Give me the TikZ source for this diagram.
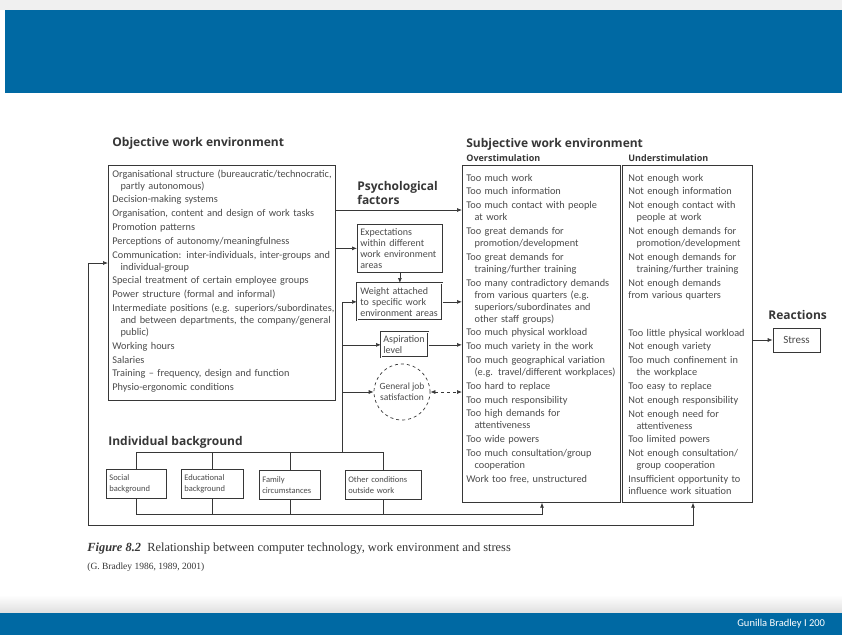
\documentclass[tikz,border=0pt]{standalone}
\usepackage{fontspec}
\setmainfont{Carlito}
\newfontfamily\headfont{Open Sans}
\newfontfamily\capfont{Liberation Serif}
\usetikzlibrary{arrows.meta,positioning}
\definecolor{slideblue}{RGB}{0,105,163}
\definecolor{ink}{RGB}{55,55,55}
\definecolor{txtgray}{RGB}{75,75,75}
\newcommand{\itm}[1]{\par\hangindent=0.8em\hangafter=1 #1}
\newcommand{\bodyfont}{\fontsize{10.3}{12}\selectfont\setlength{\parskip}{1.8pt}}
\begin{document}
\begin{tikzpicture}[x=1pt,y=-1pt,>={Latex[length=5pt,width=4pt]},line width=0.7pt,
  box/.style={draw=ink,inner sep=0pt,anchor=north west},
  sbox/.style={draw=ink,anchor=north west,align=left,inner xsep=3pt,inner ysep=0pt,
    text=txtgray,font=\fontsize{10}{11}\selectfont},
  bbox/.style={sbox,minimum height=29pt,font=\fontsize{8.5}{11}\selectfont},
  txt/.style={anchor=north west,align=left,inner sep=0pt,text=txtgray,font=\bodyfont},
  head/.style={anchor=base west,inner sep=0pt,text=ink,font=\headfont\bfseries\fontsize{12}{14}\selectfont},
  subhead/.style={anchor=base west,inner sep=0pt,text=ink,font=\headfont\bfseries\fontsize{9}{10}\selectfont},
  link/.style={draw=ink}]
\useasboundingbox (0,0) rectangle (842,635);
\fill[white] (0,0) rectangle (842,635);
% slide frame
\fill[gray!12] (0,0) rectangle (842,10);
\fill[slideblue] (5,10) rectangle (842,93);
\shade[top color=white,bottom color=gray!25] (0,595) rectangle (842,613);
\fill[slideblue] (0,613) rectangle (842,635);
\node[anchor=west,inner sep=0pt,text=white,font=\fontsize{10.5}{12}\selectfont] (foot) at (737,624) {Gunilla Bradley I 200};

% headings
\node[head] (objhead) at (112,146) {Objective work environment};
\node[head] (subjhead) at (466,147) {Subjective work environment};
\node[subhead] (overhead) at (466,161) {Overstimulation};
\node[subhead] (underhead) at (628,161) {Understimulation};
\node[head,anchor=north west,align=left] (psyhead) at (357,181) {Psychological\\factors};
\node[head] (reacthead) at (768,319) {Reactions};
\node[head] (indhead) at (108,445) {Individual background};

% objective work environment
\node[box,minimum width=227pt,minimum height=235pt] (objbox) at (108,165) {};
\node[txt,text width=240pt] (objtxt) at (112,163) {%
\itm{Organisational structure (bureaucratic/technocratic,\newline partly autonomous)}
\itm{Decision-making systems}
\itm{Organisation, content and design of work tasks}
\itm{Promotion patterns}
\itm{Perceptions of autonomy/meaningfulness}
\itm{Communication: inter-individuals, inter-groups and\newline individual-group}
\itm{Special treatment of certain employee groups}
\itm{Power structure (formal and informal)}
\itm{Intermediate positions (e.g. superiors/subordinates,\newline and between departments, the company/general\newline public)}
\itm{Working hours}
\itm{Salaries}
\itm{Training -- frequency, design and function}
\itm{Physio-ergonomic conditions}};

% psychological factors
\node[sbox,minimum width=85pt,minimum height=48pt,text width=79pt] (expect) at (357,224) {Expectations\\within different\\work environment\\areas};
\node[sbox,double,double distance=0.8pt,minimum width=85pt,minimum height=37pt,text width=79pt] (weight) at (357,283) {Weight attached\\to specific work\\environment areas};
\node[sbox,double,double distance=0.8pt,inner xsep=2pt,minimum width=47pt,minimum height=25pt,text width=43pt] (aspir) at (381,332) {Aspiration\\level};
\node[draw=ink,dashed,circle,minimum size=56pt,inner sep=0pt,align=center,text=txtgray,
  font=\fontsize{9.5}{11}\selectfont] (gjs) at (402,392) {General job\\satisfaction};

% subjective work environment
\node[box,minimum width=158pt,minimum height=337pt] (overbox) at (462,165) {};
\node[box,minimum width=130pt,minimum height=337pt] (underbox) at (622,165) {};
\node[txt,text width=160pt] (overtxt) at (466,167) {%
\itm{Too much work}
\itm{Too much information}
\itm{Too much contact with people\newline at work}
\itm{Too great demands for\newline promotion/development}
\itm{Too great demands for\newline training/further training}
\itm{Too many contradictory demands\newline from various quarters (e.g.\newline superiors/subordinates and\newline other staff groups)}
\itm{Too much physical workload}
\itm{Too much variety in the work}
\itm{Too much geographical variation\newline (e.g. travel/different workplaces)}
\itm{Too hard to replace}
\itm{Too much responsibility}
\itm{Too high demands for\newline attentiveness}
\itm{Too wide powers}
\itm{Too much consultation/group\newline cooperation}
\itm{Work too free, unstructured}};
\node[txt,text width=130pt] (undertxt) at (628,167) {%
\itm{Not enough work}
\itm{Not enough information}
\itm{Not enough contact with\newline people at work}
\itm{Not enough demands for\newline promotion/development}
\itm{Not enough demands for\newline training/further training}
\itm{Not enough demands\newline from various quarters}};
\node[txt,text width=130pt] (undertxtb) at (628,322) {%
\itm{Too little physical workload}
\itm{Not enough variety}
\itm{Too much confinement in\newline the workplace}
\itm{Too easy to replace}
\itm{Not enough responsibility}
\itm{Not enough need for\newline attentiveness}
\itm{Too limited powers}
\itm{Not enough consultation/\newline group cooperation}
\itm{Insufficient opportunity to\newline influence work situation}};

% reactions
\node[draw=ink,minimum width=47pt,minimum height=24pt,inner sep=0pt,text=txtgray,
  font=\fontsize{11}{12}\selectfont] (stress) at (796.5,340) {Stress};

% individual background
\node[bbox,minimum width=60pt,text width=54pt] (social) at (106,469) {Social\\background};
\node[bbox,minimum width=62pt,text width=56pt] (educ) at (181,469) {Educational\\background};
\node[bbox,minimum width=61pt,text width=55pt] (family) at (259,470) {Family\\circumstances};
\node[bbox,minimum width=76pt,text width=70pt] (other) at (345,470) {Other conditions\\outside work};

\coordinate (topbus) at (342,452);
\coordinate (botbus) at (542,514);
\coordinate (psy) at (400,210);
\coordinate (fbin) at (88,263);
\coordinate (loopL) at (88,525);
\coordinate (loopR) at (693,525);

% connectors
\draw[link] (social.north) |- (topbus) -| (other.north);
\draw[link] (educ.north) -- (educ.north |- topbus);
\draw[link] (family.north) -- (family.north |- topbus);
\draw[link,->] (topbus) |- (weight.west);
\draw[link,->] (topbus |- aspir.west) -- (aspir.west);
\draw[link,->] (topbus |- gjs.west) -- (gjs.west);
\draw[link,->] (social.south) |- (botbus) -- (botbus |- overbox.south);
\draw[link] (educ.south) -- (educ.south |- botbus);
\draw[link] (family.south) -- (family.south |- botbus);
\draw[link] (other.south) -- (other.south |- botbus);

\draw[link,->] (objbox.east |- psy) -- (overbox.west |- psy);
\draw[link,->] (objbox.east |- expect.west) -- (expect.west);
\draw[link,->] (expect) -- (weight);
\draw[link,->] (weight.east) -- (overbox.west |- weight.east);
\draw[link,->] (aspir.east) -- (overbox.west |- aspir.east);
\draw[link,<->,dashed] (gjs.east) -- (overbox.west |- gjs.east);
\draw[link,->] (underbox.east |- stress.west) -- (stress.west);
\draw[link,<->] (objbox.west |- fbin) -- (fbin) -- (loopL) -- (loopR) -- (loopR |- underbox.south);

% caption
\node[anchor=base west,inner sep=0pt,text=ink,font=\capfont\fontsize{12.4}{14}\selectfont] (caption) at (87,551)
  {\textbf{\textit{Figure 8.2}}\enspace Relationship between computer technology, work environment and stress};
\node[anchor=base west,inner sep=0pt,text=ink,font=\capfont\fontsize{9.5}{11}\selectfont] (source) at (87,569)
  {(G. Bradley 1986, 1989, 2001)};
\end{tikzpicture}
\end{document}
